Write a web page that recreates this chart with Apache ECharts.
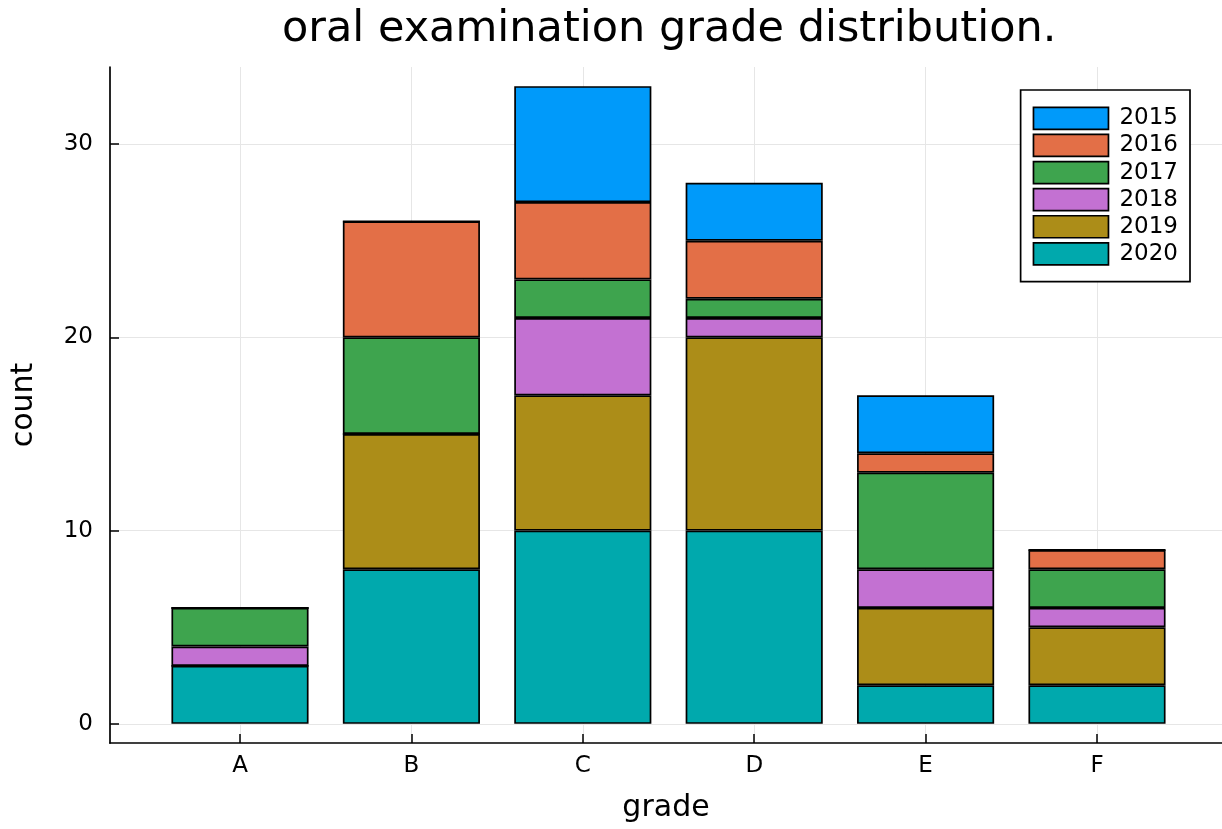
<!DOCTYPE html>
<html>
<head>
<meta charset="utf-8">
<script src="https://cdn.jsdelivr.net/npm/echarts@6/dist/echarts.min.js"></script>
<style>html,body{margin:0;padding:0;background:#fff;}#c{width:1222px;height:829px;}</style>
</head>
<body>
<div id="c"></div>
<script>
const categories = ['A', 'B', 'C', 'D', 'E', 'F'];
const years = ['2015', '2016', '2017', '2018', '2019', '2020'];
const v2015 = [0, 0, 6, 3, 3, 0];
const v2016 = [0, 6, 4, 3, 1, 1];
const v2017 = [2, 5, 2, 1, 5, 2];
const v2018 = [1, 0, 4, 1, 2, 1];
const v2019 = [0, 7, 7, 10, 4, 3];
const v2020 = [3, 8, 10, 10, 2, 2];
const yTicks = [0, 10, 20, 30];
const colors = {'2015':'#009AFA','2016':'#E36F47','2017':'#3EA44E','2018':'#C371D2','2019':'#AC8D18','2020':'#00A9AD'};
const valuesByYear = {'2015':v2015,'2016':v2016,'2017':v2017,'2018':v2018,'2019':v2019,'2020':v2020};
const catPos = categories.map((c, i) => i + 1);
const FONT = 'DejaVu Sans';
const Y_MIN = -0.99, Y_MAX = 33.99;

const stackOrder = ['2020', '2019', '2018', '2017', '2016', '2015'];
const series = stackOrder.map(y => ({
  name: y,
  type: 'bar',
  stack: 'total',
  xAxisIndex: 1,
  yAxisIndex: 1,
  barWidth: '80%',
  data: valuesByYear[y],
  itemStyle: { color: colors[y], borderColor: '#000', borderWidth: 1.7 },
  emphasis: { disabled: true }
}));

const chart = echarts.init(document.getElementById('c'), null, { renderer: 'canvas' });
chart.setOption({
  animation: false,
  backgroundColor: '#fff',
  title: {
    text: 'oral examination grade distribution.',
    left: 277, top: 3,
    textStyle: { fontFamily: FONT, fontSize: 43, fontWeight: 'normal', color: '#000' }
  },
  legend: {
    data: years,
    orient: 'vertical',
    right: 32, top: 90,
    itemWidth: 75, itemHeight: 22, itemGap: 3.4,
    padding: [16.5, 12, 16, 12],
    backgroundColor: '#fff',
    borderColor: '#000', borderWidth: 1.7, borderRadius: 0,
    icon: 'rect',
    itemStyle: { borderColor: '#000', borderWidth: 1.7 },
    textStyle: { fontFamily: FONT, fontSize: 23, lineHeight: 22, color: '#000', padding: [0, 0, 0, 6] }
  },
  grid: [
    { left: 110, right: 0, top: 67, bottom: 86, containLabel: false },
    { left: 154.3, right: 39.3, top: 67, bottom: 86, containLabel: false }
  ],
  xAxis: [{
    gridIndex: 0,
    type: 'value',
    min: 0.2415, max: 6.729,
    name: 'grade', nameLocation: 'middle', nameGap: 50,
    nameTextStyle: { fontFamily: FONT, fontSize: 30, color: '#000' },
    axisLine: { show: true, onZero: false, lineStyle: { color: '#000', width: 1.7 } },
    axisTick: { show: true, inside: true, length: 9, customValues: catPos, lineStyle: { color: '#000', width: 1.5 } },
    axisLabel: { customValues: catPos, margin: 12, fontFamily: FONT, fontSize: 23, color: '#000',
      formatter: v => categories[Math.round(v) - 1] || '' },
    splitLine: { show: true, lineStyle: { color: '#e6e6e6', width: 1 } }
  }, {
    gridIndex: 1,
    type: 'category',
    data: categories,
    show: false
  }],
  yAxis: [{
    gridIndex: 0,
    type: 'value',
    min: Y_MIN, max: Y_MAX,
    name: 'count', nameLocation: 'middle', nameGap: 71,
    nameTextStyle: { fontFamily: FONT, fontSize: 30, color: '#000' },
    axisLine: { show: true, onZero: false, lineStyle: { color: '#000', width: 1.7 } },
    axisTick: { show: true, inside: true, length: 9, customValues: yTicks, lineStyle: { color: '#000', width: 1.5 } },
    axisLabel: { customValues: yTicks, margin: 17, fontFamily: FONT, fontSize: 23, color: '#000' },
    splitLine: { show: true, lineStyle: { color: '#e6e6e6', width: 1 } }
  }, {
    gridIndex: 1,
    type: 'value',
    min: Y_MIN, max: Y_MAX,
    show: false,
    splitLine: { show: false }
  }],
  series: series
});
</script>
</body>
</html>
